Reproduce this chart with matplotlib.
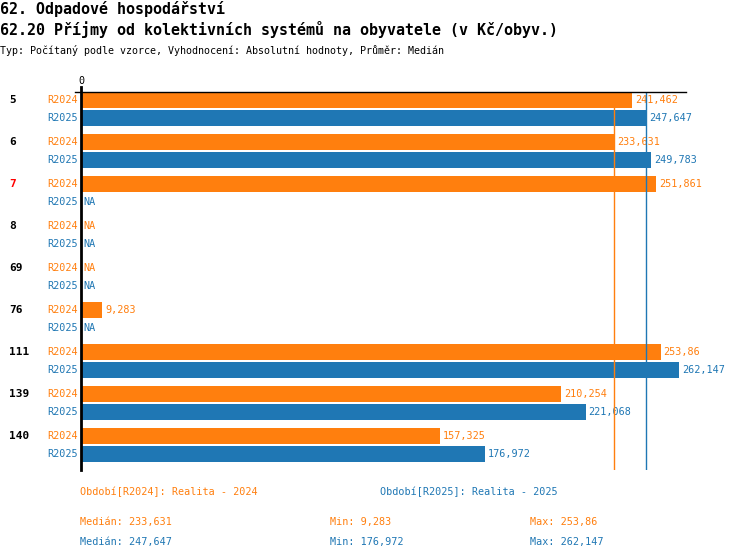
import matplotlib
matplotlib.use("Agg")
import matplotlib.pyplot as plt
import numpy as np

# ---- data ----
groups = ["5", "6", "7", "8", "69", "76", "111", "139", "140"]
highlight = ["7"]
series = ["R2024", "R2025"]
r2024 = [241.462, 233.631, 251.861, None, None, 9.283, 253.86, 210.254, 157.325]
r2025 = [247.647, 249.783, None, None, None, None, 262.147, 221.068, 176.972]
legend_labels = ["Období[R2024]: Realita - 2024", "Období[R2025]: Realita - 2025"]
title1 = "62. Odpadové hospodářství"
title2 = "62.20 Příjmy od kolektivních systémů na obyvatele (v Kč/obyv.)"
subtitle = "Typ: Počítaný podle vzorce, Vyhodnocení: Absolutní hodnoty, Průměr: Medián"

colors = ["#ff7f0e", "#1f77b4"]
W, H = 750, 560
FONT = "DejaVu Sans Mono"
FS = 7.3
plt.rcParams['font.family'] = [FONT, 'DejaVu Sans']


def fmt(v):
    s = f"{v:.3f}".rstrip("0").rstrip(".")
    return s.replace(".", ",")


fig = plt.figure(figsize=(W / 100, H / 100), dpi=100)
ax_left, ax_right, ax_top, ax_bot = 81, 686, 92, 470
ax = fig.add_axes([ax_left / W, (H - ax_bot) / H, (ax_right - ax_left) / W, (ax_bot - ax_top) / H])
ax.set_xlim(0, 265)
ax.set_ylim(ax_bot, ax_top)  # y in pixel-like units, top = 92
for s in ax.spines.values():
    s.set_visible(False)
ax.set_xticks([])
ax.set_yticks([])
ax.patch.set_alpha(0)


def ftxt(x, y, s, **kw):
    fig.text(x / W, 1 - y / H, s, **kw)


group_step = 42
bar_step = 18
bar_h = 16
first = ax_top + bar_h / 2

data = [r2024, r2025]
for gi, g in enumerate(groups):
    for si, vals in enumerate(data):
        y = first + gi * group_step + si * bar_step
        v = vals[gi]
        c = colors[si]
        if v is None:
            ax.text(1.2, y, "NA", color=c, fontsize=FS, va="center", ha="left", family=FONT)
        else:
            ax.barh(y, v, height=bar_h, color=c, linewidth=0)
            ax.text(v + 1.3, y, fmt(v), color=c, fontsize=FS, va="center", ha="left", family=FONT)
        ax.text(-1.3, y, series[si], color=c, fontsize=FS, va="center", ha="right", family=FONT)
    ycat = first + gi * group_step
    ax.text(-31.5, ycat, g, color=("#ff0000" if g in highlight else "black"), fontsize=8,
            fontweight="bold", va="center", ha="left", family=FONT)

# medians
stats = []
for si, vals in enumerate(data):
    v = np.array([x for x in vals if x is not None])
    med = float(np.median(v))
    stats.append((med, v.min(), v.max()))
    ax.axvline(med, color=colors[si], linewidth=1, zorder=3)

# zero axis and top line
ax.plot([0, 0], [ax_top - 5, ax_bot], color="black", linewidth=2, clip_on=False, zorder=4)
ax.plot([-2.5, 265], [ax_top, ax_top], color="black", linewidth=1, clip_on=False, zorder=4)
ax.text(0, ax_top - 11, "0", fontsize=FS, ha="center", va="center", family=FONT)

# titles
ftxt(0, 9, title1, fontsize=10.8, fontweight="bold", va="center", ha="left")
ftxt(0, 30, title2, fontsize=10.8, fontweight="bold", va="center", ha="left")
ftxt(0, 50, subtitle, fontsize=7.2, va="center", ha="left")

# footer
ftxt(80, 492, legend_labels[0], fontsize=FS, color=colors[0], va="center", ha="left")
ftxt(380, 492, legend_labels[1], fontsize=FS, color=colors[1], va="center", ha="left")
for si in range(2):
    yy = 522 + si * 20
    med, mn, mx = stats[si]
    ftxt(80, yy, "Medián: " + fmt(med), fontsize=FS, color=colors[si], va="center", ha="left")
    ftxt(330, yy, "Min: " + fmt(mn), fontsize=FS, color=colors[si], va="center", ha="left")
    ftxt(530, yy, "Max: " + fmt(mx), fontsize=FS, color=colors[si], va="center", ha="left")

fig.savefig("out.png", dpi=100)
